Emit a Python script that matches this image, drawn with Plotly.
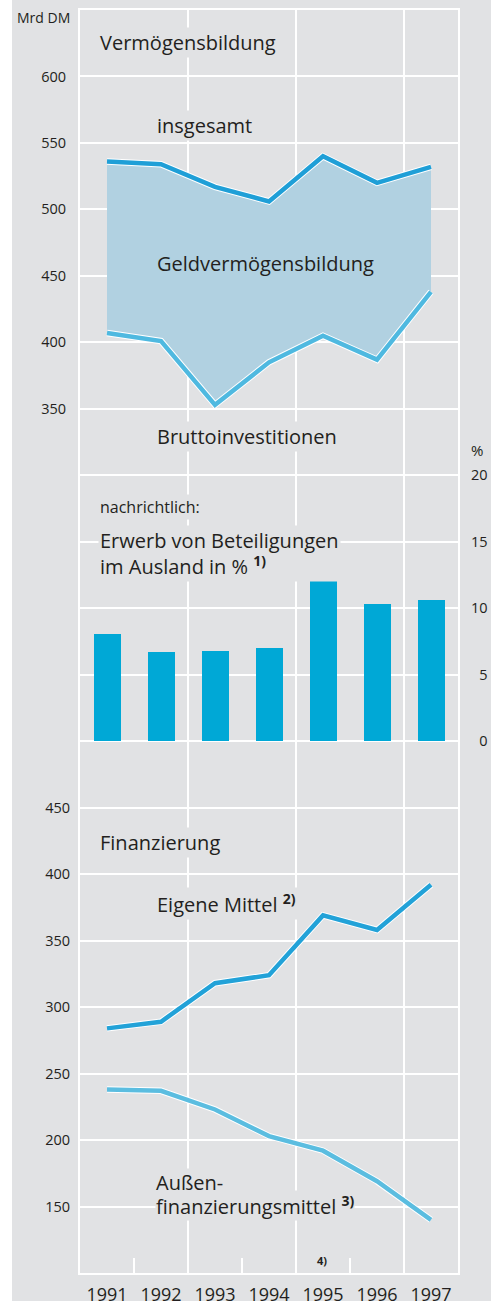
import plotly.graph_objects as go

# ---------------- data ----------------
years = [1991, 1992, 1993, 1994, 1995, 1996, 1997]
year_labels = ["1991", "1992", "1993", "1994", "1995", "1996", "1997"]
insgesamt = [536, 534, 517, 506, 540, 520, 532]          # Vermögensbildung insgesamt
brutto = [407, 401, 353, 385, 405, 387, 438]             # Bruttoinvestitionen
beteiligungen = [8.1, 6.7, 6.8, 7.0, 12.5, 10.3, 10.6]   # Erwerb von Beteiligungen im Ausland in %
eigene = [284, 289, 318, 324, 369, 358, 392]             # Eigene Mittel
aussen = [238, 237, 223, 203, 192, 169, 140]             # Außenfinanzierungsmittel

top_ticks = [350, 400, 450, 500, 550, 600]
pct_ticks = [0, 5, 10, 15, 20]
pct_labels = ["\u20070", "\u20075", "10", "15", "20"]
fin_ticks = [150, 200, 250, 300, 350, 400, 450]
grid_vals = list(range(-300, 651, 50))
half_years = [1990.5, 1991.5, 1992.5, 1993.5, 1994.5, 1995.5, 1996.5, 1997.5]
vgrid = [1990.5, 1992.5, 1994.5, 1996.5, 1997.5]

# ---------------- style ----------------
BG = "#e1e2e4"
TXT = "#231f20"
FONT = "Open Sans"
FILL = "#b1d1e1"
C_TOP = "#1f9fd7"
C_BRUTTO = "#4fb9e0"
C_BAR = "#00a8d6"
C_EIG = "#22a2d8"
C_AUS = "#5bbde0"

W, H = 491, 1301
L, R, T, B = 80, 33, 10, 28
PW, PH = W - L - R, H - T - B

fig = go.Figure()

# area between Bruttoinvestitionen and insgesamt
fig.add_trace(go.Scatter(x=years, y=brutto, mode="lines", line=dict(width=0),
                         hoverinfo="skip", showlegend=False))
fig.add_trace(go.Scatter(x=years, y=insgesamt, mode="lines", line=dict(width=0),
                         fill="tonexty", fillcolor=FILL, showlegend=False))

def outlined(y, color, yaxis="y"):
    fig.add_trace(go.Scatter(x=years, y=y, mode="lines", yaxis=yaxis,
                             line=dict(color="white", width=6.5), showlegend=False,
                             hoverinfo="skip"))
    fig.add_trace(go.Scatter(x=years, y=y, mode="lines", yaxis=yaxis,
                             line=dict(color=color, width=4.5), showlegend=False))

outlined(insgesamt, C_TOP)
outlined(brutto, C_BRUTTO)

# bars (percent axis)
fig.add_trace(go.Bar(x=years, y=beteiligungen, xaxis="x2", yaxis="y2", width=0.5,
                     marker=dict(color=C_BAR, line=dict(width=0)), showlegend=False))

# Finanzierung lines
outlined(eigene, C_EIG, "y3")
outlined(aussen, C_AUS, "y3")

ticks_font = dict(family=FONT, size=14.5, color=TXT)

fig.update_layout(
    width=W, height=H,
    margin=dict(l=L, r=R, t=T, b=B, pad=0, autoexpand=False),
    paper_bgcolor=BG, plot_bgcolor=BG,
    font=dict(family=FONT, color=TXT),
    showlegend=False,
    bargap=0,
    xaxis=dict(range=[1990.5, 1997.5], tickmode="array", tickvals=years, ticktext=year_labels,
               showgrid=False, zeroline=False, ticks="", automargin=False,
               tickfont=dict(family=FONT, size=18, color=TXT), ticklabelstandoff=4,
               showline=True, mirror=True, linecolor="white", linewidth=2,
               minor=dict(tickmode="array", tickvals=vgrid, showgrid=True,
                          gridcolor="white", gridwidth=2, ticks="")),
    xaxis2=dict(range=[1990.5, 1997.5], overlaying="x", anchor="y", side="bottom",
                tickmode="array", tickvals=half_years, showticklabels=False,
                ticks="inside", ticklen=15, tickwidth=2, tickcolor="white",
                showgrid=False, zeroline=False, automargin=False),
    yaxis=dict(range=[-300, 650], tickmode="array", tickvals=grid_vals,
               ticktext=[str(v) if v in top_ticks else "" for v in grid_vals],
               showgrid=True, gridcolor="white", gridwidth=2, zeroline=False, ticks="",
               tickfont=ticks_font, ticklabelstandoff=9, automargin=False,
               showline=True, mirror=True, linecolor="white", linewidth=2),
    yaxis2=dict(range=[-40, 55], overlaying="y", side="right", anchor="x",
                tickmode="array", tickvals=pct_ticks, ticktext=pct_labels,
                showgrid=False, zeroline=False, ticks="", tickfont=ticks_font,
                ticklabelstandoff=12, automargin=False),
    yaxis3=dict(range=[100, 1050], overlaying="y", side="left", anchor="x",
                tickmode="array", tickvals=fin_ticks, ticktext=[str(v) for v in fin_ticks],
                showgrid=False, zeroline=False, ticks="", tickfont=ticks_font,
                ticklabelstandoff=9, automargin=False),
)

# white strip on the far left
fig.add_shape(type="rect", xref="paper", yref="paper",
              x0=(0 - L) / PW, x1=(12 - L) / PW, y0=-B / PH - 0.01, y1=1 + T / PH + 0.01,
              fillcolor="white", line=dict(width=0), layer="below")

def ann(text, px, py, size, bg=BG, xanchor="left", pad=1, **kw):
    fig.add_annotation(text=text, xref="paper", yref="paper",
                       x=(px - L) / PW, y=1 - (py - T) / PH,
                       xanchor=xanchor, yanchor="middle", showarrow=False,
                       font=dict(family=FONT, size=size, color=TXT),
                       bgcolor=bg, borderpad=pad, **kw)

ann("Mrd DM", 72, 18, 14, xanchor="right")
ann("Vermögensbildung", 98, 43, 20)
ann("insgesamt", 155, 125, 20)
ann("Geldvermögensbildung", 155, 263, 20, bg="rgba(0,0,0,0)")
ann("Bruttoinvestitionen", 155, 437, 20)
ann("%", 469, 450, 15)
ann("nachrichtlich:", 98, 507, 16)
ann("Erwerb von Beteiligungen<br>im Ausland in % <sup><b>1)</b></sup>", 98, 553, 20, align="left")
ann("Finanzierung", 98, 842, 20)
ann("Eigene Mittel <sup><b>2)</b></sup>", 155, 903, 20)
ann("finanzierungsmittel <sup><b>3)</b></sup>", 155, 1205, 20, pad=0)
ann("Außen-", 155, 1182, 20, pad=0)
ann("<b>4)</b>", 315, 1260, 11)

fig.write_html("out.html")
